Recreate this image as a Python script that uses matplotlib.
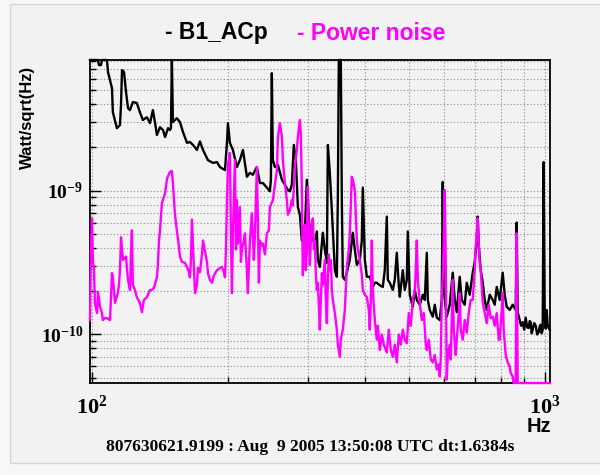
import numpy as np
import matplotlib
matplotlib.use('Agg')
import matplotlib.pyplot as plt
from matplotlib.patches import Rectangle
from matplotlib.ticker import NullFormatter

plt.rcParams['font.family'] = ['Liberation Sans', 'DejaVu Sans']
plt.rcParams['mathtext.fontset'] = 'custom'
plt.rcParams['mathtext.rm'] = 'Liberation Serif'
plt.rcParams['mathtext.bf'] = 'Liberation Serif:bold'

# spectra: (frequency Hz, amplitude in 1e-10 Watt/sqrt(Hz))
b1_acp = [
    (99.0, 90), (103.1, 90), (103.6, 74.7), (104.7, 74.7), (105.2, 90), (107.9, 90),
    (108.5, 66.7), (110.7, 51.6), (111.2, 35.1), (113.5, 27.2), (115.3, 28.6), (115.9, 39.4),
    (116.5, 68.9), (117.7, 66.7), (118.9, 48.5), (120.1, 37.5), (121.3, 36.3), (123.1, 41.3),
    (125.6, 40.7), (127.6, 35.1), (129.5, 31.0), (132.2, 32.4), (134.3, 29.5), (136.3, 36.3),
    (137.7, 30.0), (139.1, 24.4), (141.3, 27.6), (143.5, 26.4), (145.0, 23.6), (147.2, 27.2),
    (148.6, 26.4), (149.4, 27.2), (150.1, 85), (150.9, 30.0), (153.9, 31.9), (156.4, 30.0),
    (158.8, 25.6), (162.1, 21.5), (164.5, 21.8), (167.1, 20.8), (170.5, 19.2), (173.1, 22.0),
    (175.8, 19.2), (180.3, 16.3), (185.0, 15.6), (188.8, 15.8), (191.6, 14.6), (196.6, 13.9),
    (198.6, 21.5), (199.6, 29.5), (201.6, 21.5), (204.7, 19.2), (208.9, 14.6), (212.1, 16.3),
    (215.4, 19.2), (219.8, 12.5), (223.2, 13.3), (226.6, 12.9), (231.2, 14.6), (234.8, 11.3),
    (238.4, 11.3), (243.3, 10.5), (247.0, 9.9), (248.3, 11.9), (249.5, 65.6), (250.8, 16.3),
    (253.4, 14.6), (257.3, 15.1), (262.6, 11.9), (266.6, 11.0), (270.7, 10.1), (273.4, 9.9),
    (276.2, 11.0), (279.0, 20.8), (281.9, 16.3), (284.8, 7.7), (287.7, 6.8), (290.6, 4.5),
    (295.1, 5.1), (298.1, 11.9), (301.2, 6.3), (304.2, 4.5), (307.4, 4.7), (310.5, 4.2),
    (313.6, 5.2), (315.2, 3.3), (318.4, 2.95), (323.3, 5.1), (326.6, 3.9), (330.0, 3.15),
    (331.7, 20.8), (335.0, 13.3), (338.5, 7.3), (343.7, 2.8), (347.2, 2.52), (349.0, 9.1),
    (350.7, 90), (354.3, 90), (356.1, 8.6), (357.9, 2.52), (361.6, 2.4), (365.3, 2.7),
    (370.8, 3.3), (376.5, 5.1), (380.4, 3.9), (384.3, 3.05), (390.2, 3.3), (394.2, 4.5),
    (396.2, 10.5), (400.3, 3.3), (404.4, 2.52), (410.5, 2.52), (416.8, 2.14), (421.1, 2.29),
    (425.4, 2.29), (431.9, 2.2), (438.5, 2.14), (443.0, 2.8), (447.6, 6.6), (449.9, 2.4),
    (454.4, 2.29), (461.4, 2.04), (466.1, 2.4), (470.9, 3.7), (475.7, 2.2), (478.1, 1.83),
    (485.5, 2.8), (490.4, 2.04), (495.5, 2.4), (498.0, 5.2), (503.0, 1.89), (510.8, 1.56),
    (516.0, 2.04), (521.3, 1.74), (529.2, 1.61), (537.4, 1.89), (542.9, 1.74), (548.5, 3.7),
    (551.3, 1.74), (556.8, 1.48), (565.4, 1.33), (571.2, 1.61), (577.1, 1.31), (585.8, 1.26),
    (591.8, 1.74), (594.8, 11.5), (597.8, 2.04), (607.0, 1.33), (616.3, 1.61), (625.8, 2.69),
    (632.2, 1.74), (638.7, 1.43), (648.4, 2.52), (655.1, 1.74), (665.1, 1.61), (672.0, 2.29),
    (682.2, 1.89), (692.7, 2.69), (699.8, 3.2), (707.0, 4.5), (710.6, 6.6), (714.2, 4.2),
    (721.5, 2.8), (728.9, 2.29), (736.3, 1.74), (743.9, 1.48), (755.2, 1.89), (766.8, 1.74),
    (774.7, 1.61), (782.6, 2.14), (794.5, 1.74), (806.7, 2.69), (815.0, 1.89), (823.3, 1.56),
    (835.9, 1.48), (848.7, 1.61), (861.8, 1.48), (866.2, 6.0), (870.6, 1.43), (879.5, 1.26),
    (886.0, 1.15), (893.0, 1.22), (899.8, 1.08), (906.8, 1.31), (913.6, 1.12), (920.6, 1.11),
    (925.3, 1.24), (930.1, 1.22), (934.8, 1.02), (939.6, 1.08), (946.8, 1.20), (954.1, 1.15),
    (961.2, 1.00), (968.5, 1.04), (973.5, 1.14), (978.4, 1.17), (983.5, 1.02), (988.5, 1.08),
    (993.5, 15.8), (998.6, 1.36), (1003.7, 1.10), (1008.8, 1.48), (1014.0, 1.16),
    (1019.2, 1.11), (1024.4, 1.08),
]

power_noise = [
    (99.0, 1.26), (99.5, 4.02), (100.0, 6.42), (100.5, 3.15), (101.0, 2.95), (101.5, 1.66),
    (102.6, 1.41), (103.1, 1.98), (104.2, 1.56), (105.2, 1.41), (105.7, 1.26), (106.8, 1.30),
    (107.9, 1.30), (109.6, 1.26), (110.1, 1.74), (110.7, 2.67), (111.2, 2.50), (111.8, 2.04),
    (112.4, 1.66), (113.5, 1.85), (114.1, 1.94), (114.7, 2.22), (115.3, 2.8), (115.9, 4.74),
    (116.5, 3.9), (117.1, 3.3), (118.3, 3.43), (118.9, 3.48), (119.5, 2.8), (120.1, 2.4),
    (121.3, 2.04), (121.9, 3.6), (122.5, 5.3), (123.1, 2.22), (124.4, 2.04), (125.6, 1.82),
    (127.6, 1.66), (128.9, 1.43), (130.2, 1.74), (132.2, 1.82), (134.3, 2.04), (135.6, 2.04),
    (137.0, 2.11), (139.1, 2.50), (139.8, 3.05), (140.6, 4.5), (141.3, 5.3), (142.7, 8.2),
    (145.0, 9.6), (146.5, 12.2), (148.6, 13.5), (150.1, 13.7), (150.9, 11.3), (152.4, 6.96),
    (153.9, 5.3), (154.7, 4.74), (156.4, 3.48), (158.0, 3.2), (160.4, 3.15), (162.1, 2.95),
    (163.7, 2.71), (164.5, 2.5), (165.3, 3.2), (166.2, 6.3), (167.1, 4.15), (168.8, 1.94),
    (170.5, 2.22), (171.4, 2.9), (173.1, 2.71), (174.9, 3.6), (175.8, 4.5), (177.6, 3.78),
    (179.4, 3.2), (180.3, 2.67), (182.1, 2.4), (184.0, 2.29), (185.9, 2.58), (188.8, 2.8),
    (191.6, 2.9), (193.6, 2.95), (195.6, 2.71), (196.6, 2.5), (197.6, 3.9), (198.6, 8.6),
    (199.6, 15.1), (201.6, 18.3), (202.6, 5.3), (203.7, 1.94), (204.7, 5.05), (206.8, 16.3),
    (207.9, 3.9), (208.9, 8.6), (210.0, 4.29), (212.1, 7.69), (213.2, 3.2), (214.3, 3.9),
    (216.5, 4.5), (217.6, 5.05), (219.8, 2.8), (220.9, 1.94), (223.2, 4.5), (225.4, 6.96),
    (227.7, 3.3), (228.9, 4.74), (231.2, 14.6), (232.4, 6.3), (233.6, 2.29), (234.8, 4.5),
    (237.2, 4.15), (238.4, 4.29), (240.9, 3.6), (243.3, 5.05), (245.8, 5.3), (247.0, 7.69),
    (250.8, 8.6), (253.4, 11.0), (256.0, 13.9), (257.3, 23.6), (259.9, 29.5), (262.6, 23.6),
    (263.9, 16.3), (266.6, 11.3), (269.3, 8.6), (270.7, 6.8), (273.4, 7.3), (276.2, 8.6),
    (277.6, 7.9), (280.5, 14.6), (283.3, 19.2), (284.8, 23.6), (287.7, 31.0), (289.2, 24.4),
    (290.6, 10.1), (292.1, 2.58), (293.6, 4.5), (295.1, 5.8), (296.6, 2.8), (298.1, 3.9),
    (299.6, 10.6), (301.2, 5.3), (302.7, 3.05), (304.2, 4.5), (305.8, 5.8), (307.4, 6.42),
    (308.9, 3.9), (310.5, 4.5), (312.1, 2.58), (313.6, 2.04), (315.2, 2.29), (316.8, 1.61),
    (318.4, 1.08), (320.1, 1.74), (321.7, 2.67), (323.3, 2.22), (326.6, 3.3), (328.3, 1.74),
    (330.0, 1.2), (331.7, 2.4), (333.3, 3.6), (335.0, 2.8), (336.8, 3.3), (338.5, 2.04),
    (340.2, 1.74), (343.7, 1.41), (347.2, 1.08), (349.0, 0.85), (352.5, 0.70), (354.3, 0.92),
    (357.9, 1.08), (361.6, 1.48), (365.3, 2.95), (369.0, 3.9), (370.8, 4.93), (374.6, 12.5),
    (376.5, 11.9), (380.4, 10.1), (382.3, 6.8), (384.3, 4.5), (386.2, 3.9), (390.2, 3.3),
    (394.2, 2.58), (396.2, 2.04), (400.3, 1.89), (404.4, 1.82), (408.5, 1.48), (410.5, 1.08),
    (412.6, 1.74), (414.7, 4.5), (416.8, 2.04), (421.1, 1.26), (425.4, 0.92), (427.6, 1.15),
    (431.9, 0.78), (436.3, 1.0), (440.8, 0.85), (447.6, 0.75), (452.1, 1.08), (456.8, 0.78),
    (461.4, 0.70), (466.1, 0.85), (470.9, 0.64), (475.7, 1.0), (480.5, 0.85), (485.5, 1.08),
    (490.4, 0.92), (495.5, 0.87), (500.5, 1.41), (505.6, 1.15), (510.8, 1.74), (516.0, 2.04),
    (518.6, 2.8), (521.3, 4.5), (524.0, 2.4), (529.2, 1.66), (534.7, 1.26), (540.2, 1.41),
    (545.7, 0.85), (548.5, 0.78), (554.1, 0.92), (559.7, 0.67), (565.4, 0.64), (571.2, 0.72),
    (577.1, 0.57), (583.0, 0.62), (585.8, 0.51), (588.8, 0.67), (591.8, 1.74), (594.8, 2.5),
    (597.8, 4.5), (600.9, 10.1), (603.9, 3.3), (607.0, 0.485), (610.1, 0.72), (616.3, 0.85),
    (619.5, 0.67), (625.8, 2.4), (629.0, 1.08), (635.4, 0.72), (638.7, 0.92), (645.2, 1.41),
    (648.4, 1.94), (651.7, 1.08), (658.4, 0.92), (665.1, 1.26), (672.0, 1.03), (678.8, 1.41),
    (685.7, 1.74), (692.7, 1.74), (699.8, 2.8), (703.4, 4.15), (707.0, 5.05), (710.6, 6.42),
    (714.2, 4.15), (717.8, 3.15), (721.5, 2.8), (728.9, 1.66), (736.3, 1.41), (743.9, 1.2),
    (751.4, 1.61), (759.1, 1.30), (766.8, 1.33), (774.7, 1.15), (782.6, 1.41), (790.6, 0.92),
    (794.5, 0.92), (802.6, 1.48), (806.7, 1.94), (810.8, 1.08), (819.2, 0.72), (827.5, 0.64),
    (835.9, 0.60), (840.2, 0.54), (848.7, 0.51), (853.0, 0.40), (861.8, 0.40), (866.2, 5.05),
    (870.6, 0.40), (879.5, 0.40), (1024.4, 0.40),
]

x_ticks = [100, 1000]
x_tick_labels = [r'$\mathbf{10^{2}}$', r'$\mathbf{10^{3}}$']
y_ticks = [1e-10, 1e-9]
y_tick_labels = [r'$\mathbf{10^{-10}}$', r'$\mathbf{10^{-9}}$']
footer = '807630621.9199 : Aug  9 2005 13:50:08 UTC dt:1.6384s'

x_lo, x_hi = 99, 1026
y_lo, y_hi = 4.6e-11, 8.1e-9

W, H = 600, 475
bg = '#f2f2f2'
fig = plt.figure(figsize=(W / 100, H / 100), dpi=100, facecolor='#f7f7f7')
# canvas frame like in ROOT, kept under the axes
fig.patches.append(Rectangle((10 / W, 1 - 463 / H), 1, (463 - 4) / H, transform=fig.transFigure,
                             facecolor=bg, edgecolor='#d4d4d4', lw=1, zorder=-10))

ax = fig.add_axes([90 / W, 1 - 383 / H, 460 / W, 323 / H])
ax.set_zorder(1)
ax.set_facecolor(bg)
ax.set_xscale('log')
ax.set_yscale('log')
ax.set_xlim(x_lo, x_hi)
ax.set_ylim(y_lo, y_hi)

f1, a1 = np.array(b1_acp).T
f2, a2 = np.array(power_noise).T
ax.plot(f1, np.clip(a1 * 1e-10, y_lo, y_hi), color='black', lw=1.7, clip_on=False, zorder=3)
ax.plot(f2, np.clip(a2 * 1e-10, y_lo, y_hi), color='#ff00ff', lw=1.7, clip_on=False, zorder=4)

ax.set_xticks(x_ticks)
ax.set_xticklabels(x_tick_labels)
ax.set_xticks([200, 300, 400, 500, 600, 700, 800, 900], minor=True)
ax.set_yticks(y_ticks)
ax.set_yticklabels(y_tick_labels)
ax.set_yticks([5e-11, 6e-11, 7e-11, 8e-11, 9e-11] + [k * 1e-10 for k in range(2, 10)]
              + [k * 1e-9 for k in range(2, 9)], minor=True)
ax.xaxis.set_minor_formatter(NullFormatter())
ax.yaxis.set_minor_formatter(NullFormatter())

ax.tick_params(which='both', direction='in', width=1, color='black')
ax.tick_params(which='major', length=8)
ax.tick_params(which='minor', length=4)
ax.tick_params(axis='x', labelsize=16, pad=9)
ax.tick_params(axis='y', labelsize=14, pad=5)
ax.grid(True, which='both', color='#8a8a8a', lw=0.8, linestyle=(0, (1, 2)))
ax.set_axisbelow(True)
for s in ax.spines.values():
    s.set_linewidth(1.3)

fig.text(165 / W, 1 - 33 / H, '- B1_ACp', ha='left', va='center', fontsize=16.5,
         fontweight='bold', color='black')
fig.text(297 / W, 1 - 33 / H, '- Power noise', ha='left', va='center', fontsize=16.5,
         fontweight='bold', color='#ff00ff')
fig.text(27 / W, 1 - 66 / H, 'Watt/sqrt(Hz)', rotation=90, ha='center', va='top',
         fontsize=12, fontweight='bold')
fig.text(551 / W, 1 - 427 / H, 'Hz', ha='right', va='center', fontsize=14.5, fontweight='bold')
fig.text(310 / W, 1 - 447 / H, footer, ha='center', va='center', fontsize=12.5,
         fontweight='bold', family='Liberation Serif')

fig.savefig('out.png', dpi=100, facecolor=fig.get_facecolor())
